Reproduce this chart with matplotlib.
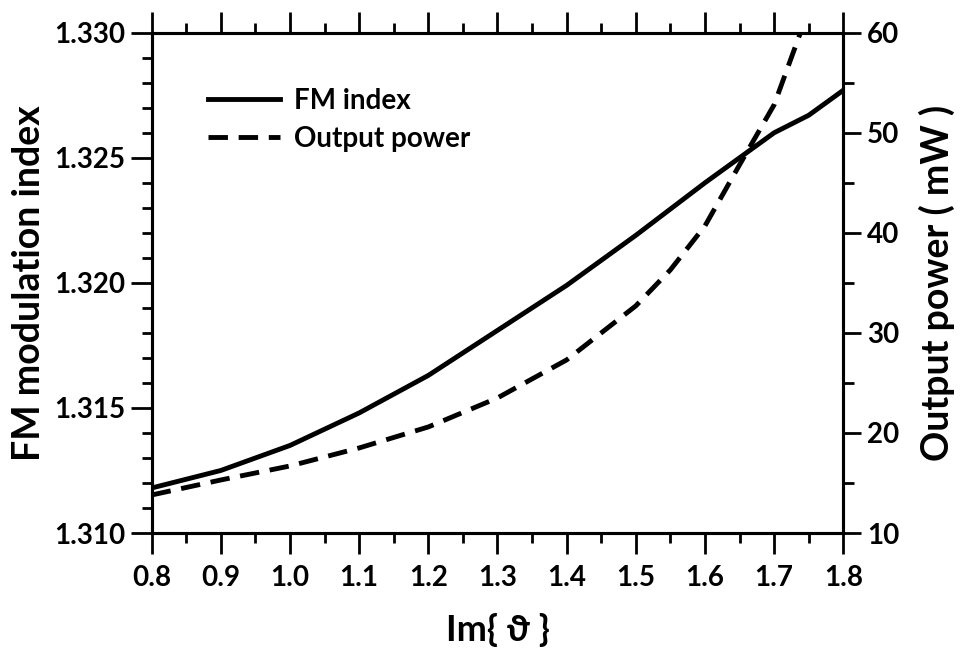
import matplotlib.pyplot as plt
from matplotlib.ticker import MultipleLocator, FormatStrFormatter

# FM modulation index vs Im{theta}
x_fm = [0.8, 0.9, 1.0, 1.1, 1.2, 1.3, 1.4, 1.5, 1.6, 1.65, 1.7, 1.75, 1.8]
fm_index = [1.3118, 1.3125, 1.3135, 1.3148, 1.3163, 1.3181, 1.3199,
            1.3219, 1.3240, 1.3250, 1.3260, 1.3267, 1.3277]

# output power (mW)
x_pw = [0.8, 0.9, 1.0, 1.1, 1.2, 1.3, 1.4, 1.5, 1.55, 1.6, 1.65, 1.7, 1.738]
power = [13.8, 15.3, 16.7, 18.5, 20.6, 23.5, 27.3, 32.7, 36.3, 40.7, 46.8, 52.8, 60.0]

fam = ['Lato', 'DejaVu Sans']
plt.rcParams['font.family'] = fam
plt.rcParams['font.weight'] = 'bold'
plt.rcParams['axes.labelweight'] = 'bold'

fig = plt.figure(figsize=(9.66, 6.54), dpi=100)
ax = fig.add_axes([0.157, 0.185, 0.716, 0.765])
ax2 = ax.twinx()

l1, = ax.plot(x_fm, fm_index, color='black', lw=3.5, label='FM index')
l2, = ax2.plot(x_pw, power, color='black', lw=3.5, dashes=(4, 2.2),
               label='Output power')

ax.set_xlim(0.8, 1.8)
ax.set_ylim(1.310, 1.330)
ax2.set_ylim(10, 60)

ax.xaxis.set_major_locator(MultipleLocator(0.1))
ax.xaxis.set_minor_locator(MultipleLocator(0.05))
ax.xaxis.set_major_formatter(FormatStrFormatter('%.1f'))
ax.yaxis.set_major_locator(MultipleLocator(0.005))
ax.yaxis.set_minor_locator(MultipleLocator(0.001))
ax.yaxis.set_major_formatter(FormatStrFormatter('%.3f'))
ax2.yaxis.set_major_locator(MultipleLocator(10))
ax2.yaxis.set_minor_locator(MultipleLocator(5))

for a in (ax, ax2):
    for s in a.spines.values():
        s.set_linewidth(2.2)

ax.tick_params(which='both', direction='out', width=2, top=True,
               labelsize=20)
ax.tick_params(which='major', length=15)
ax.tick_params(which='minor', length=7)
ax.tick_params(axis='x', pad=8)
ax.tick_params(axis='y', pad=4)
ax2.tick_params(which='both', direction='out', width=2, labelsize=20, pad=4)
ax2.tick_params(which='major', length=13)
ax2.tick_params(which='minor', length=8)

ax.set_xlabel('Im{ ϑ }', fontsize=26, labelpad=16)
ax.set_ylabel('FM modulation index', fontsize=27, labelpad=6)
ax2.set_ylabel('Output power ( mW )', fontsize=27, labelpad=14)

ax.legend(handles=[l1, l2], loc='upper left', bbox_to_anchor=(0.045, 0.94),
          frameon=False, prop={'size': 20, 'weight': 'bold'},
          handlelength=2.6, handletextpad=0.5, labelspacing=0.45)

fig.savefig('out.png', dpi=100)
